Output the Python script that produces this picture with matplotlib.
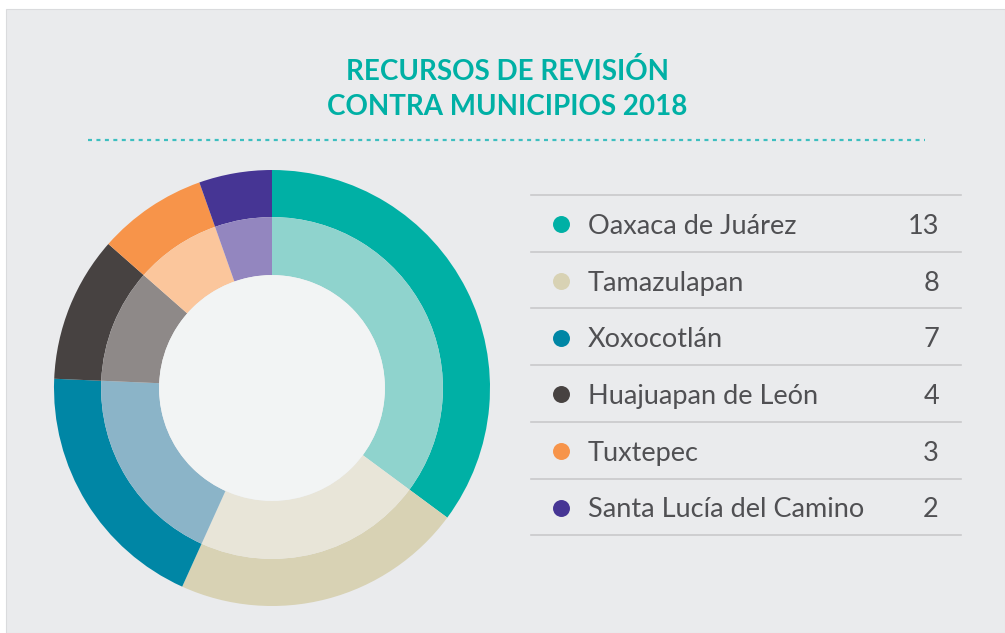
import matplotlib
matplotlib.use("Agg")
import matplotlib.pyplot as plt
from matplotlib.patches import Rectangle, Circle

# data
municipios = ["Oaxaca de Juárez", "Tamazulapan", "Xoxocotlán",
              "Huajuapan de León", "Tuxtepec", "Santa Lucía del Camino"]
recursos = [13, 8, 7, 4, 3, 2]
title_lines = ["RECURSOS DE REVISIÓN", "CONTRA MUNICIPIOS 2018"]

outer_colors = ["#00B0A5", "#D8D2B4", "#0086A5", "#474241", "#F7944A", "#463594"]
inner_colors = ["#8FD3CD", "#E8E5D8", "#8BB4C8", "#8E8988", "#FBC69C", "#9386BF"]

W, H = 1005, 633
fig = plt.figure(figsize=(W / 100, H / 100), dpi=100, facecolor="white")

# background / text layer in pixel coords
bg = fig.add_axes([0, 0, 1, 1])
bg.set_xlim(0, W)
bg.set_ylim(H, 0)
bg.axis("off")
bg.add_patch(Rectangle((6, 9), W - 6, H - 9, facecolor="#EAEBED",
                       edgecolor="#DADBDD", lw=0.8))

teal = "#00B0A5"
bg.text(507, 72, title_lines[0], ha="center", va="center", color=teal,
        fontsize=20, fontweight="bold", family="Lato")
bg.text(507, 107, title_lines[1], ha="center", va="center", color=teal,
        fontsize=20, fontweight="bold", family="Lato")
bg.plot([88, 925], [140, 140], color="#3DBFC0", lw=1.6, ls=(0, (1.8, 2.0)))

# legend table
row_h = 56.7
top = 195
for i, (name, val) in enumerate(zip(municipios, recursos)):
    y0 = top + i * row_h
    yc = y0 + row_h / 2
    bg.plot([531, 961], [y0, y0], color="#C9C9CB", lw=1.2)
    bg.scatter([561], [yc + 1], s=125, color=outer_colors[i], zorder=3)
    bg.text(588, yc + 3, name, ha="left", va="center", color="#505053",
            fontsize=19.5, family="Lato")
    bg.text(939, yc + 3, str(val), ha="right", va="center", color="#505053",
            fontsize=19.5, family="Lato")
bg.plot([531, 961], [top + 6 * row_h] * 2, color="#C9C9CB", lw=1.2)

# donut
cx, cy, r = 272, 388, 218
pie_ax = fig.add_axes([(cx - r) / W, (H - cy - r) / H, 2 * r / W, 2 * r / H])
pie_ax.pie(recursos, radius=1.0, colors=outer_colors, startangle=90,
           counterclock=False, wedgeprops=dict(width=0.216, linewidth=0))
pie_ax.pie(recursos, radius=0.784, colors=inner_colors, startangle=90,
           counterclock=False, wedgeprops=dict(width=0.266, linewidth=0))
pie_ax.add_patch(Circle((0, 0), 0.518, facecolor="#F2F4F4", lw=0))
pie_ax.set_xlim(-1, 1)
pie_ax.set_ylim(-1, 1)
pie_ax.set_aspect("equal")
pie_ax.axis("off")

fig.savefig("out.png", dpi=100, facecolor="white")
